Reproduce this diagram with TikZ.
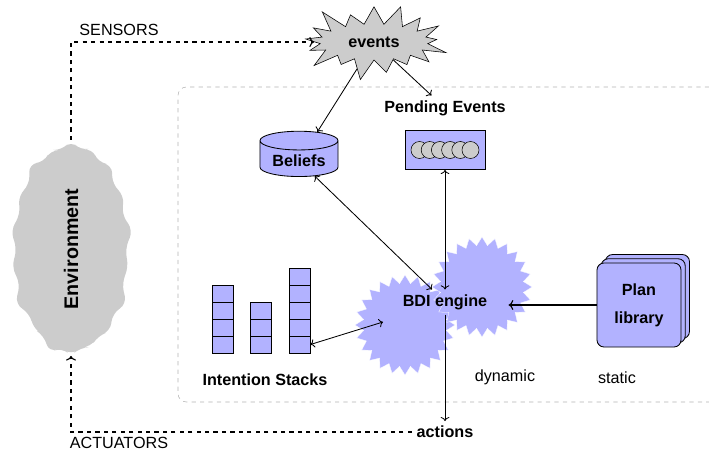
\documentclass[tikz,border=0pt]{standalone}
\usepackage{fontspec}
\setmainfont{Liberation Sans}
\usetikzlibrary{shapes,shapes.geometric,shapes.symbols,shadows}
\usetikzlibrary{arrows,arrows.meta}

\colorlet{agentblue}{blue!30}
\colorlet{envgray}{gray!40}

\tikzset{
  every node/.style={font=\fontsize{11.5}{13.8}\selectfont},
  bold/.style={font=\fontsize{11.5}{13.8}\selectfont\bfseries},
  cellbox/.style={draw,fill=agentblue,semithick,minimum width=0.525cm,minimum height=0.425cm,inner sep=0pt},
  engine/.style={star,star points=24,star point ratio=1.2,minimum size=2.5cm,fill=agentblue,draw=white,line width=0.2pt,inner sep=0pt},
  wire/.style={semithick,->},
  link/.style={semithick,<->},
  sense/.style={thick,dashed,->}
}

\begin{document}
\begin{tikzpicture}[x=0.025cm,y=-0.025cm]
  \useasboundingbox (0,0) rectangle (709,451);
  % agent boundary
  \draw[gray!60,dashed,rounded corners=6pt] (709,87) -- (178,87) -- (178,402) -- (709,402);

  \node[starburst,starburst point height=0.6cm,draw,fill=envgray,minimum width=3.9cm,minimum height=2.1cm,bold] (ev) at (374,42) {events};
  \node[starburst,starburst points=18,starburst point height=0.3cm,rounded corners=6pt,fill=envgray,
        minimum width=3.3cm,minimum height=5.6cm,font=\fontsize{14}{16}\selectfont\bfseries] (env) at (71,249) {\rotatebox{90}{Environment}};

  \node[cylinder,shape border rotate=90,aspect=0.3,draw,fill=agentblue,semithick,
        minimum width=1.95cm,minimum height=0.95cm,bold] (bel) at (299,161) {Beliefs};

  \node[bold] (pendlbl) at (445,108) {Pending Events};
  \node[draw,fill=agentblue,semithick,minimum width=2cm,minimum height=0.975cm] (pend) at (445,150) {};
  \foreach \k in {0,...,5}
    \draw[fill=envgray] (419.5+10.2*\k,150) circle (0.2125cm);

  % stacks
  \foreach \s/\xl/\n in {1/222.5/4,2/261/3,3/299.5/5}
    \foreach \k in {1,...,\n}
      \node[cellbox] (s\s-\k) at (\xl,353-17*\k+8.5) {};
  \node[bold] (stlbl) at (265,380) {Intention Stacks};

  % engine
  \node[engine] (dyn1) at (405,325) {};
  \node[engine] (dyn2) at (482,287) {};
  \node[bold,inner xsep=10pt] (bdi) at (445,302) {BDI engine};
  \coordinate (bdiin) at (383,322);

  \node[draw,semithick,fill=agentblue,rounded corners=5pt,minimum width=2.1cm,minimum height=2.1cm,align=center,
        double copy shadow={shadow xshift=3pt,shadow yshift=3pt},font=\fontsize{11.5}{20}\selectfont\bfseries] (plan) at (639,305) {Plan\\library};

  \node (dynlbl) at (505,377) {dynamic};
  \node (statlbl) at (617,378) {static};
  \node[bold] (act) at (445,432) {actions};
  \node (senslbl) at (119,30) {SENSORS};
  \node (actlbl) at (119,443) {ACTUATORS};

  % connectors
  \draw[sense] (env.north) |- (ev.west);
  \draw[sense] (act.west) -| (env.south);
  \draw[wire] (ev) -- (bel);
  \draw[wire] (ev) -- (pendlbl);
  \draw[link] (bel) -- (bdi);
  \draw[link] (pend) -- (bdi);
  \draw[link] (s3-1.east) -- (bdiin);
  \draw[wire] (bdi) -- (act);
  \draw[thick,->] (plan) -- ([xshift=5pt]plan -| bdi.east);
\end{tikzpicture}
\end{document}
